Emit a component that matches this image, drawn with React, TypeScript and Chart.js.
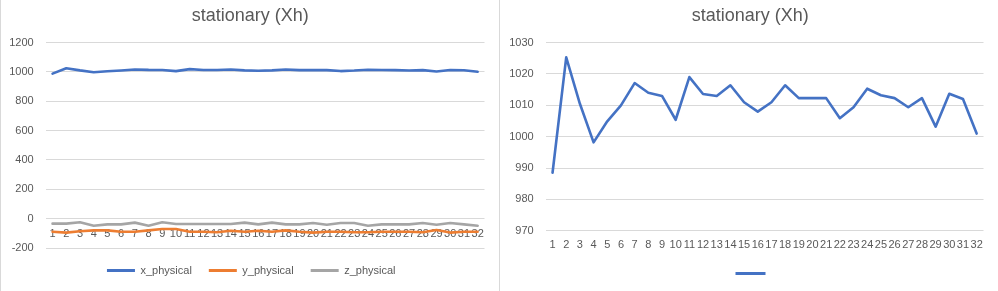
import React, { useEffect, useRef } from "react";
import { Chart, registerables } from "chart.js";

Chart.register(...registerables);

const categories = ["1","2","3","4","5","6","7","8","9","10","11","12","13","14","15","16","17","18","19","20","21","22","23","24","25","26","27","28","29","30","31","32"];
const xPhysical = [988.5,1025.3,1010.5,998.2,1004.9,1010,1017.1,1014,1013,1005.4,1019,1013.6,1013,1016.4,1011,1008,1011,1016.4,1012.3,1012.3,1012.3,1005.9,1009.4,1015.3,1013.2,1012.3,1009.4,1012.3,1003.2,1013.7,1012,1001];
const yPhysical = [-89,-95,-86,-80,-80,-89,-89,-80,-70,-70,-89,-89,-93,-82,-89,-82,-89,-80,-89,-95,-89,-89,-93,-93,-89,-89,-89,-93,-77,-95,-89,-89];
const zPhysical = [-34,-34,-25,-48,-39,-39,-27,-48,-25,-36,-36,-36,-36,-36,-27,-39,-27,-39,-39,-30,-41,-30,-30,-48,-39,-39,-39,-30,-41,-30,-39,-48];
const seriesNames = ["x_physical", "y_physical", "z_physical"];
const titleText = "stationary (Xh)";

const BLUE = "#4472C4";
const ORANGE = "#ED7D31";
const GRAY = "#A5A5A5";
const TEXT = "#595959";
const GRID = "#D9D9D9";
const FONT = "'Liberation Sans', Arial, sans-serif";

function legendLabels(chart: any) {
  return Chart.defaults.plugins.legend.labels.generateLabels(chart).map((l: any) => ({
    ...l,
    lineWidth: 0,
    fillStyle: l.strokeStyle,
  }));
}

function lineDs(label: string, data: number[], color: string) {
  return {
    label,
    data,
    borderColor: color,
    backgroundColor: color,
    borderWidth: 2.6,
    pointRadius: 0,
    pointHoverRadius: 0,
    tension: 0,
    borderJoinStyle: "round" as const,
    borderCapStyle: "round" as const,
  };
}

type Opts = {
  yMin: number;
  yMax: number;
  step: number;
  xPos: any;
  xPad: number;
  bottomPad: number;
  legendPad: number;
  boxWidth: number;
  yWidth: number;
};

function baseOptions(o: Opts) {
  return {
    responsive: false,
    animation: false as const,
    layout: { padding: { left: 9, right: 14.5, top: 0, bottom: o.bottomPad } },
    plugins: {
      title: {
        display: true,
        text: titleText,
        color: TEXT,
        font: { family: FONT, size: 18, weight: "normal" as const },
        padding: { top: 5, bottom: 16 },
      },
      legend: {
        position: "bottom" as const,
        labels: {
          color: TEXT,
          font: { family: FONT, size: 11 },
          boxWidth: o.boxWidth,
          boxHeight: 3,
          padding: o.legendPad,
          generateLabels: legendLabels,
        },
      },
      tooltip: { enabled: false },
    },
    scales: {
      x: {
        position: o.xPos,
        offset: true,
        grid: { display: false, drawTicks: false },
        border: { display: false },
        ticks: {
          color: TEXT,
          font: { family: FONT, size: 11 },
          autoSkip: false,
          maxRotation: 0,
          minRotation: 0,
          padding: o.xPad,
        },
      },
      y: {
        min: o.yMin,
        max: o.yMax,
        grid: { color: GRID, lineWidth: 1, drawTicks: false },
        border: { display: false },
        afterFit: (scale: any) => {
          scale.width = o.yWidth;
        },
        ticks: {
          stepSize: o.step,
          color: TEXT,
          font: { family: FONT, size: 11 },
          padding: 12,
          callback: (v: any) => String(v),
        },
      },
    },
  };
}

// shifts the centred title and legend boxes horizontally after layout
function shiftPlugin(titleDx: number, legendDx: number) {
  return {
    id: "shiftBoxes",
    afterLayout(chart: any) {
      const t = chart.titleBlock;
      if (t) {
        t.left += titleDx;
        t.right += titleDx;
      }
      const l = chart.legend;
      if (l) {
        l.left += legendDx;
        l.right += legendDx;
      }
    },
  };
}

function ChartBox({ config, left }: { config: any; left: number }) {
  const ref = useRef<HTMLCanvasElement | null>(null);
  useEffect(() => {
    if (!ref.current) return;
    const chart = new Chart(ref.current, config);
    return () => chart.destroy();
  }, []);
  return (
    <div
      style={{
        position: "absolute",
        top: 0,
        left,
        width: 499,
        height: 291,
        borderLeft: "1px solid " + GRID,
        boxSizing: "border-box",
        background: "#fff",
      }}
    >
      <canvas ref={ref} width={498} height={291} style={{ display: "block" }} />
    </div>
  );
}

export default function App() {
  const leftConfig = {
    type: "line",
    data: {
      labels: categories,
      datasets: [
        lineDs(seriesNames[0], xPhysical, BLUE),
        lineDs(seriesNames[1], yPhysical, ORANGE),
        lineDs(seriesNames[2], zPhysical, GRAY),
      ],
    },
    options: baseOptions({
      yMin: -200, yMax: 1200, step: 200, xPos: { y: 0 }, xPad: 9,
      bottomPad: 5, legendPad: 17, boxWidth: 28, yWidth: 35.7,
    }),
    plugins: [shiftPlugin(3, 4)],
  };
  const rightConfig = {
    type: "line",
    data: {
      labels: categories,
      datasets: [lineDs("", xPhysical, BLUE)],
    },
    options: baseOptions({
      yMin: 970, yMax: 1030, step: 10, xPos: "bottom", xPad: 8,
      bottomPad: 2, legendPad: 8, boxWidth: 30, yWidth: 36.7,
    }),
    plugins: [shiftPlugin(4, 7)],
  };
  return (
    <div style={{ position: "absolute", top: 0, left: 0, width: 998, height: 291, background: "#fff" }}>
      <ChartBox config={leftConfig} left={0} />
      <ChartBox config={rightConfig} left={499} />
    </div>
  );
}
